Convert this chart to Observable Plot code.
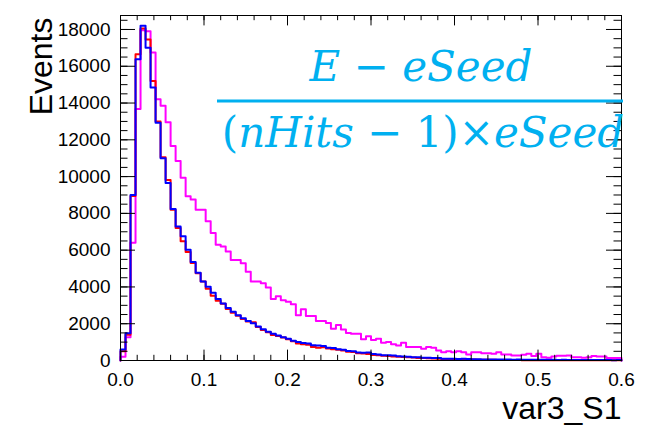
<!DOCTYPE html>
<html>
<head>
<meta charset="utf-8">
<script src="https://cdn.jsdelivr.net/npm/d3@7"></script>
<script src="https://cdn.jsdelivr.net/npm/@observablehq/plot@0.6"></script>
<style>
  html, body { margin: 0; padding: 0; background: #fff; }
  #chart { width: 663px; height: 438px; }
</style>
</head>
<body>
<div id="chart"></div>
<script>
// Histogram binning of var3_S1: 100 equal bins over [0, 0.6]
const binLow = 0;
const binHigh = 0.6;

// Bin contents (events per bin), one list per sample
const countsMagenta = [
  200, 1260, 6400, 13680, 17960, 17900, 16750, 14200, 13850, 12950,
  11670, 10850, 9940, 8935, 8750, 8200, 8200, 7570, 6930, 6290,
  6200, 5930, 5470, 5470, 5290, 4830, 4300, 4300, 4195, 3975,
  3340, 3500, 3280, 3190, 3065, 2460, 2790, 2425, 2425, 2150,
  2150, 2040, 1730, 1930, 1680, 1495, 1460, 1460, 1150, 1320,
  1110, 1185, 970, 1000, 890, 820, 965, 730, 730, 730,
  640, 730, 690, 547, 455, 500, 455, 500, 455, 330,
  455, 455, 400, 400, 365, 455, 330, 330, 275, 275,
  310, 365, 240, 365, 180, 150, 220, 255, 255, 275,
  180, 180, 150, 180, 240, 220, 220, 130, 130, 130
];
const countsRed = [
  500, 1400, 8950, 16650, 18050, 17450, 15200, 13000, 11050, 9810,
  8200, 7200, 6480, 5900, 5300, 4750, 4300, 3900, 3520, 3250,
  3080, 2800, 2600, 2430, 2260, 2120, 2080, 1820, 1660, 1530,
  1380, 1330, 1250, 1150, 1050, 930, 880, 860, 740, 700,
  720, 650, 610, 580, 540, 480, 460, 400, 380, 360,
  300, 290, 260, 240, 220, 200, 190, 180, 160, 140,
  130, 120, 110, 100, 80, 75, 70, 65, 60, 55,
  50, 45, 40, 38, 35, 32, 30, 28, 25, 22,
  20, 20, 18, 18, 16, 15, 15, 14, 13, 12,
  12, 11, 11, 10, 10, 10, 9, 9, 8, 8
];
const countsBlue = [
  600, 1480, 9000, 16380, 18200, 17000, 14850, 12930, 11000, 9650,
  8240, 7290, 6750, 6020, 5350, 4770, 4300, 4010, 3680, 3350,
  3100, 2850, 2650, 2460, 2300, 2150, 2030, 1850, 1700, 1560,
  1450, 1360, 1270, 1180, 1080, 1000, 950, 920, 830, 810,
  790, 700, 680, 610, 590, 520, 500, 430, 420, 440,
  350, 330, 290, 280, 270, 230, 220, 210, 180, 170,
  150, 150, 140, 130, 100, 95, 90, 85, 90, 80,
  70, 65, 60, 60, 55, 60, 50, 55, 45, 50,
  45, 40, 45, 40, 35, 40, 35, 30, 35, 30,
  30, 28, 30, 25, 25, 28, 22, 25, 20, 22
];

// Axis ticks and labels
const xTicks = [0, 0.1, 0.2, 0.3, 0.4, 0.5, 0.6];
const yTicks = [0, 2000, 4000, 6000, 8000, 10000, 12000, 14000, 16000, 18000];
const xMinorTicks = d3.range(0, 0.6001, 0.02);
const yMinorTicks = d3.range(0, 18760, 500);
const yTop = 18760;
const xTitle = "var3_S1";
const yTitle = "Events";

// Outline of a histogram: rises from the baseline at the low edge,
// steps across each bin, drops back to the baseline at the high edge.
function outline(counts) {
  const w = (binHigh - binLow) / counts.length;
  const pts = [{x: binLow, y: 0}];
  counts.forEach((c, i) => pts.push({x: binLow + i * w, y: c}));
  pts.push({x: binHigh, y: counts[counts.length - 1]});
  pts.push({x: binHigh, y: 0});
  return pts;
}

const W = 663, H = 438;
const mL = 120, mR = 42, mT = 15, mB = 78;
const fw = W - mL - mR, fh = H - mT - mB;
const tickXMajor = 10.4, tickXMinor = 5.2, tickYMajor = 15, tickYMinor = 7.5;

const plot = Plot.plot({
  width: W, height: H,
  marginLeft: mL, marginRight: mR, marginTop: mT, marginBottom: mB,
  x: {domain: [binLow, binHigh]},
  y: {domain: [0, yTop]},
  style: {fontFamily: "'Liberation Sans', Arial, sans-serif", background: "white", color: "black"},
  marks: [
    Plot.line(outline(countsMagenta), {x: "x", y: "y", curve: "step-after", stroke: "#ff00ff", strokeWidth: 2}),
    Plot.line(outline(countsRed), {x: "x", y: "y", curve: "step-after", stroke: "#ff0000", strokeWidth: 2}),
    Plot.line(outline(countsBlue), {x: "x", y: "y", curve: "step-after", stroke: "#0000ff", strokeWidth: 2}),
    Plot.frame({stroke: "black", strokeWidth: 1}),
    // inward ticks on all four sides
    Plot.ruleX(xTicks, {insetTop: fh - tickXMajor, stroke: "black"}),
    Plot.ruleX(xTicks, {insetBottom: fh - tickXMajor, stroke: "black"}),
    Plot.ruleX(xMinorTicks, {insetTop: fh - tickXMinor, stroke: "black"}),
    Plot.ruleX(xMinorTicks, {insetBottom: fh - tickXMinor, stroke: "black"}),
    Plot.ruleY(yTicks, {insetRight: fw - tickYMajor, stroke: "black"}),
    Plot.ruleY(yTicks, {insetLeft: fw - tickYMajor, stroke: "black"}),
    Plot.ruleY(yMinorTicks, {insetRight: fw - tickYMinor, stroke: "black"}),
    Plot.ruleY(yMinorTicks, {insetLeft: fw - tickYMinor, stroke: "black"}),
    Plot.axisX(xTicks, {tickSize: 0, tickPadding: 12, tickFormat: d3.format(".1f"), fontSize: 19, label: null}),
    Plot.axisY(yTicks, {tickSize: 0, tickPadding: 10, tickFormat: d3.format("d"), fontSize: 19, label: null}),
    Plot.text([xTitle], {text: d => d, frameAnchor: "bottom-right", textAnchor: "end", dy: 58, fontSize: 32}),
    Plot.text([yTitle], {text: d => d, frameAnchor: "top-left", textAnchor: "end", rotate: -90, dx: -91, dy: 2, fontSize: 32})
  ]
});

// Formula annotation: (E - eSeed) / ((nHits - 1) x eSeed)
const svg = d3.select(plot);
const formula = svg.append("g")
  .attr("fill", "#00b0f0")
  .attr("font-family", "'DejaVu Serif', serif")
  .attr("font-size", 42);

const num = formula.append("text").attr("x", 421).attr("y", 81).attr("text-anchor", "middle");
num.append("tspan").attr("font-style", "italic").text("E");
num.append("tspan").text(" \u2212 ");
num.append("tspan").attr("font-style", "italic").text("eSeed");

formula.append("line")
  .attr("x1", 217).attr("x2", 623).attr("y1", 101).attr("y2", 101)
  .attr("stroke", "#00b0f0").attr("stroke-width", 3);

const den = formula.append("text").attr("x", 423).attr("y", 147).attr("text-anchor", "middle");
den.append("tspan").text("(");
den.append("tspan").attr("font-style", "italic").text("nHits");
den.append("tspan").text(" \u2212 1)\u00d7");
den.append("tspan").attr("font-style", "italic").text("eSeed");

document.getElementById("chart").appendChild(plot);
</script>
</body>
</html>
